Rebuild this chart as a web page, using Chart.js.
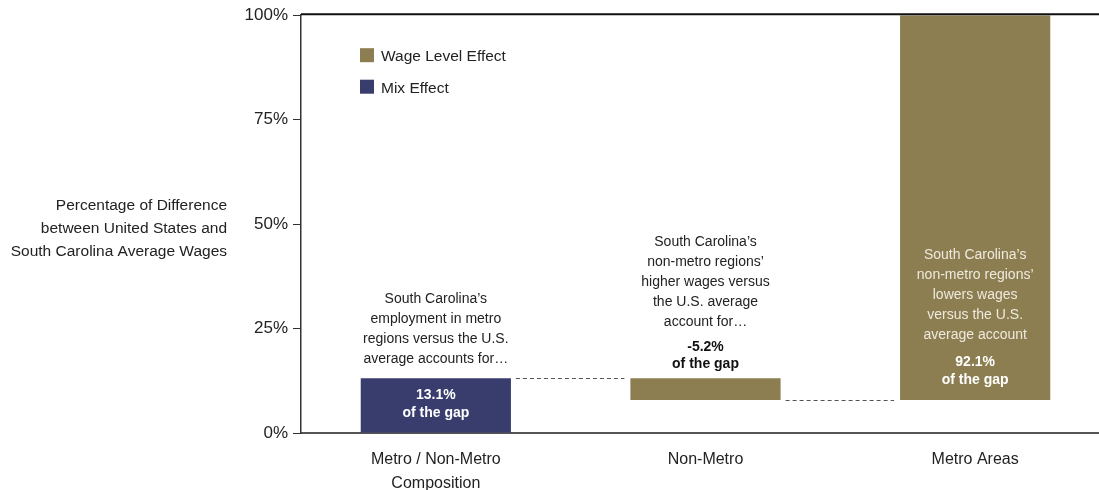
<!doctype html>
<html>
  <head>
    <title>Wage Gap Decomposition</title>
    <script src="https://cdn.jsdelivr.net/npm/chart.js"></script>
    <style>
      html,
      body {
        margin: 0;
        padding: 0;
        background: #fff;
        overflow: hidden;
      }
      #gapChart {
        display: block;
      }
    </style>
  </head>
  <body>
    <canvas id="gapChart" width="1110" height="490"></canvas>

    <script>
      const categories = [['Metro / Non-Metro', 'Composition'], 'Non-Metro', 'Metro Areas'];
      // share of the US / SC average wage gap explained by each step
      const gapShares = [13.1, -5.2, 92.1];
      const effectOf = ['Mix Effect', 'Wage Level Effect', 'Wage Level Effect'];
      const yTicks = [0, 25, 50, 75, 100];

      const noteText = [
        ["South Carolina’s", 'employment in metro', 'regions versus the U.S.', 'average accounts for…'],
        ["South Carolina’s", 'non-metro regions’', 'higher wages versus', 'the U.S. average', 'account for…'],
        ["South Carolina’s", 'non-metro regions’', 'lowers wages', 'versus the U.S.', 'average account'],
      ];
      const yTitle = ['Percentage of Difference', 'between United States and', 'South Carolina Average Wages'];

      const colors = {
        'Wage Level Effect': '#8c7e50',
        'Mix Effect': '#393d6e',
      };
      const FONT = "'Liberation Sans', Arial, sans-serif";

      // waterfall: each step floats from the running total
      let running = 0;
      const ranges = gapShares.map((share) => {
        const start = running;
        running = Math.round((running + share) * 10) / 10;
        return [Math.min(start, running), Math.max(start, running)];
      });

      const datasets = ['Wage Level Effect', 'Mix Effect'].map((name) => ({
        label: name,
        data: ranges.map((r, i) => (effectOf[i] === name ? r : null)),
        backgroundColor: colors[name],
        borderWidth: 0,
        grouped: false,
        categoryPercentage: 1,
        barPercentage: 0.557,
      }));

      function pctLabel(v) {
        return (v > 0 ? '' : v < 0 ? '-' : '') + Math.abs(v).toFixed(1) + '%';
      }

      function barAt(chart, i) {
        for (let d = 0; d < chart.data.datasets.length; d++) {
          if (chart.data.datasets[d].data[i]) return chart.getDatasetMeta(d).data[i];
        }
      }

      function textLines(ctx, lines, x, firstBaseline, step) {
        lines.forEach((line, k) => ctx.fillText(line, x, firstBaseline + k * step));
      }

      const annotations = {
        id: 'annotations',
        afterDatasetsDraw(chart) {
          const { ctx, chartArea, scales } = chart;
          ctx.save();

          // frame line across the top of the plot
          ctx.strokeStyle = '#111';
          ctx.lineWidth = 2;
          ctx.beginPath();
          ctx.moveTo(chartArea.left, chartArea.top - 1);
          ctx.lineTo(chartArea.right, chartArea.top - 1);
          ctx.stroke();

          const bars = categories.map((c, i) => barAt(chart, i));

          // dashed connectors between consecutive steps
          ctx.strokeStyle = '#555';
          ctx.lineWidth = 1;
          ctx.setLineDash([4, 3]);
          for (let i = 0; i < bars.length - 1; i++) {
            const level = ranges[i][0] === ranges[i + 1][0] ? ranges[i][0] : ranges[i][1];
            const y = Math.round(scales.y.getPixelForValue(level)) + 0.5;
            ctx.beginPath();
            ctx.moveTo(bars[i].x + bars[i].width / 2 + 5, y);
            ctx.lineTo(bars[i + 1].x - bars[i + 1].width / 2 - 6, y);
            ctx.stroke();
          }
          ctx.setLineDash([]);

          // legend
          const lx = chartArea.left + 59;
          chart.data.datasets.forEach((ds, k) => {
            const ly = chartArea.top + 33 + k * 31.5;
            ctx.fillStyle = ds.backgroundColor;
            ctx.fillRect(lx, ly, 14, 14);
            ctx.fillStyle = '#222';
            ctx.font = '15.5px ' + FONT;
            ctx.textAlign = 'left';
            ctx.textBaseline = 'alphabetic';
            ctx.fillText(ds.label, lx + 21, ly + 13);
          });

          // y axis title, three lines to the left of the tick labels
          ctx.font = '15.5px ' + FONT;
          ctx.textAlign = 'right';
          ctx.fillStyle = '#222';
          const mid = scales.y.getPixelForValue(50);
          textLines(ctx, yTitle, chartArea.left - 74, mid - 14.5, 23.4);

          // step notes
          ctx.textAlign = 'center';
          bars.forEach((bar, i) => {
            const top = Math.min(bar.y, bar.base);
            const bottom = Math.max(bar.y, bar.base);
            const value = [pctLabel(gapShares[i]), 'of the gap'];
            const normal = '14px ' + FONT;
            const bold = 'bold 14px ' + FONT;
            if (i === 0) {
              ctx.font = normal;
              ctx.fillStyle = '#222';
              textLines(ctx, noteText[i], bar.x, top - 15 - 20 * (noteText[i].length - 1), 20);
              ctx.font = bold;
              ctx.fillStyle = '#fff';
              textLines(ctx, value, bar.x, top + 21, 17.5);
            } else if (i === 1) {
              const firstBold = top - 10 - 17.5;
              ctx.font = bold;
              ctx.fillStyle = '#111';
              textLines(ctx, value, bar.x, firstBold, 17.5);
              ctx.font = normal;
              ctx.fillStyle = '#222';
              textLines(ctx, noteText[i], bar.x, firstBold - 25 - 20 * (noteText[i].length - 1), 20);
            } else {
              const firstBold = bottom - 16 - 17.5;
              ctx.font = bold;
              ctx.fillStyle = '#fff';
              textLines(ctx, value, bar.x, firstBold, 17.5);
              ctx.font = normal;
              ctx.fillStyle = '#eeeade';
              textLines(ctx, noteText[i], bar.x, firstBold - 27 - 20 * (noteText[i].length - 1), 20);
            }
          });

          ctx.restore();
        },
      };

      new Chart(document.getElementById('gapChart'), {
        type: 'bar',
        data: { labels: categories, datasets },
        options: {
          responsive: false,
          animation: false,
          layout: { padding: { top: 15, right: 0, bottom: 0, left: 0 } },
          plugins: {
            legend: { display: false },
            tooltip: { enabled: false },
          },
          scales: {
            x: {
              offset: true,
              grid: { display: false },
              border: { display: true, color: '#555', width: 2 },
              ticks: {
                color: '#222',
                padding: 7,
                font: { family: FONT, size: 16, lineHeight: 1.47 },
              },
              afterFit(scale) {
                scale.height = 57;
              },
            },
            y: {
              min: yTicks[0],
              max: yTicks[yTicks.length - 1],
              afterBuildTicks(scale) {
                scale.ticks = yTicks.map((v) => ({ value: v }));
              },
              grid: {
                display: true,
                drawOnChartArea: false,
                drawTicks: true,
                tickLength: 8,
                color: '#333',
              },
              border: { display: true, color: '#333', width: 1.5 },
              ticks: {
                color: '#222',
                padding: 5,
                font: { family: FONT, size: 17 },
                callback: (v) => v + '%',
              },
              afterFit(scale) {
                scale.width = 301;
              },
            },
          },
        },
        plugins: [annotations],
      });
    </script>
  </body>
</html>
